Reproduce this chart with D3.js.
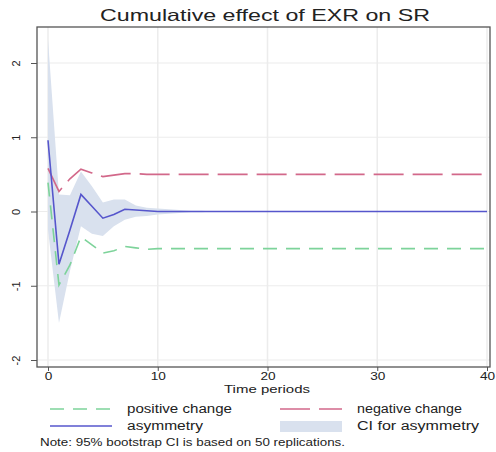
<!DOCTYPE html>
<html>
<head>
<meta charset="utf-8">
<script src="https://cdn.jsdelivr.net/npm/d3@7"></script>
<style>
  body { margin: 0; background: #fff; }
  text { font-family: "Liberation Sans", Arial, sans-serif; fill: #222; }
</style>
</head>
<body>
<svg id="chart" width="496" height="452"></svg>
<script>
// horizon 0..40
const periods = d3.range(0, 41)
const posChange = [0.39, -0.99, -0.72, -0.34, -0.45, -0.56, -0.53, -0.47, -0.49, -0.51,
  -0.5, -0.5, -0.5, -0.5, -0.5, -0.5, -0.5, -0.5, -0.5, -0.5, -0.5, -0.5, -0.5, -0.5, -0.5,
  -0.5, -0.5, -0.5, -0.5, -0.5, -0.5, -0.5, -0.5, -0.5, -0.5, -0.5, -0.5, -0.5, -0.5, -0.5, -0.5]
const negChange = [0.58, 0.27, 0.44, 0.57, 0.52, 0.47, 0.49, 0.51, 0.51, 0.5,
  0.5, 0.5, 0.5, 0.5, 0.5, 0.5, 0.5, 0.5, 0.5, 0.5, 0.5, 0.5, 0.5, 0.5, 0.5,
  0.5, 0.5, 0.5, 0.5, 0.5, 0.5, 0.5, 0.5, 0.5, 0.5, 0.5, 0.5, 0.5, 0.5, 0.5, 0.5]
const asymmetry = [0.96, -0.71, -0.25, 0.23, 0.07, -0.09, -0.04, 0.03, 0.02, 0.01,
  0, 0, 0, 0, 0, 0, 0, 0, 0, 0, 0, 0, 0, 0, 0,
  0, 0, 0, 0, 0, 0, 0, 0, 0, 0, 0, 0, 0, 0, 0, 0]
const ciUpper = [2.32, 0.23, 0.22, 0.54, 0.34, 0.12, 0.16, 0.16, 0.08, 0.05,
  0.04, 0.03, 0.02, 0.01, 0.01, 0, 0, 0, 0, 0, 0, 0, 0, 0, 0,
  0, 0, 0, 0, 0, 0, 0, 0, 0, 0, 0, 0, 0, 0, 0, 0]
const ciLower = [-0.25, -1.5, -0.8, -0.2, -0.3, -0.33, -0.2, -0.11, -0.07, -0.06,
  -0.04, -0.03, -0.02, -0.01, -0.01, 0, 0, 0, 0, 0, 0, 0, 0, 0, 0,
  0, 0, 0, 0, 0, 0, 0, 0, 0, 0, 0, 0, 0, 0, 0, 0]
const xTicks = [0, 10, 20, 30, 40]
const yTicks = [-2, -1, 0, 1, 2]

const svg = d3.select('#chart')
const box = { left: 37, right: 490, top: 27, bottom: 367 }

const x = d3.scaleLinear().domain([0, 40]).range([48, 487])
const y = d3.scaleLinear().domain([-2, 2]).range([360, 63])

// grid
svg.append('g').selectAll('line').data(yTicks).enter().append('line')
  .attr('x1', box.left).attr('x2', box.right)
  .attr('y1', d => y(d)).attr('y2', d => y(d))
  .attr('stroke', '#ececec').attr('stroke-width', 1.2)
svg.append('g').selectAll('line').data(xTicks).enter().append('line')
  .attr('x1', d => x(d)).attr('x2', d => x(d))
  .attr('y1', box.top).attr('y2', box.bottom)
  .attr('stroke', '#ececec').attr('stroke-width', 1.5)

// CI band
const band = d3.area()
  .x((d, i) => x(periods[i]))
  .y0((d, i) => y(ciLower[i]))
  .y1((d, i) => y(ciUpper[i]))
svg.append('path').datum(periods)
  .attr('d', band)
  .attr('fill', '#d9e1ee')

function drawLine(vals, color, dash) {
  const line = d3.line().x((d, i) => x(periods[i])).y(d => y(d))
  svg.append('path').datum(vals)
    .attr('d', line)
    .attr('fill', 'none')
    .attr('stroke', color)
    .attr('stroke-width', 1.6)
    .attr('stroke-dasharray', dash)
}
drawLine(posChange, '#7dd39a', '14,9')
drawLine(negChange, '#d2688a', '30,9')
drawLine(asymmetry, '#5656cc', null)

// frame
svg.append('rect')
  .attr('x', box.left).attr('y', box.top)
  .attr('width', box.right - box.left).attr('height', box.bottom - box.top)
  .attr('fill', 'none').attr('stroke', '#555').attr('stroke-width', 1.3)

// axes
const xAxis = d3.axisBottom(x).tickValues(xTicks).tickSize(4).tickPadding(2)
svg.append('g').attr('transform', `translate(0,${box.bottom})`).call(xAxis)
  .call(g => g.select('.domain').remove())
  .call(g => g.selectAll('line').attr('stroke', '#555'))
  .call(g => g.selectAll('text').attr('font-size', 10.5).attr('fill', '#333')
    .attr('transform', 'scale(1.3,1)'))

const yAxis = d3.axisLeft(y).tickValues(yTicks).tickSize(6).tickPadding(3)
const yg = svg.append('g').attr('transform', `translate(${box.left},0)`).call(yAxis)
yg.select('.domain').remove()
yg.selectAll('line').attr('stroke', '#555')
yg.selectAll('text').remove()
yg.selectAll('.tick').append('text')
  .attr('transform', 'translate(-21,0) rotate(-90)')
  .attr('text-anchor', 'middle')
  .attr('dy', '0.35em')
  .attr('font-size', 11)
  .attr('fill', '#333')
  .text(d => d)

// stretched text helper (reference is horizontally stretched)
function label(tx, ty, str, size, width, anchor) {
  return svg.append('text').attr('x', tx).attr('y', ty)
    .attr('text-anchor', anchor || 'start')
    .attr('font-size', size)
    .attr('textLength', width)
    .attr('lengthAdjust', 'spacingAndGlyphs')
    .text(str)
}

// title & axis title
label(265, 21, 'Cumulative effect of EXR on SR', 16.5, 330, 'middle')
label(267, 393, 'Time periods', 11, 86, 'middle')

// legend
const legend = [
  { label: 'positive change', w: 105, color: '#7dd39a', dash: '14,9', type: 'line', lx: 50, ty: 409 },
  { label: 'negative change', w: 105, color: '#d2688a', dash: '30,9', type: 'line', lx: 280, ty: 409 },
  { label: 'asymmetry', w: 76, color: '#5656cc', dash: null, type: 'line', lx: 50, ty: 426 },
  { label: 'CI for asymmetry', w: 122, color: '#d9e1ee', dash: null, type: 'box', lx: 280, ty: 426 }
]
legend.forEach(l => {
  if (l.type === 'line') {
    svg.append('line').attr('x1', l.lx).attr('x2', l.lx + 62)
      .attr('y1', l.ty).attr('y2', l.ty)
      .attr('stroke', l.color).attr('stroke-width', 1.6)
      .attr('stroke-dasharray', l.dash)
  } else {
    svg.append('rect').attr('x', l.lx).attr('y', l.ty - 5)
      .attr('width', 62).attr('height', 11).attr('fill', l.color)
  }
  label(l.lx + 77, l.ty + 4, l.label, 12, l.w)
})

label(40, 446, 'Note: 95% bootstrap CI is based on 50 replications.', 10, 305)
</script>
</body>
</html>
